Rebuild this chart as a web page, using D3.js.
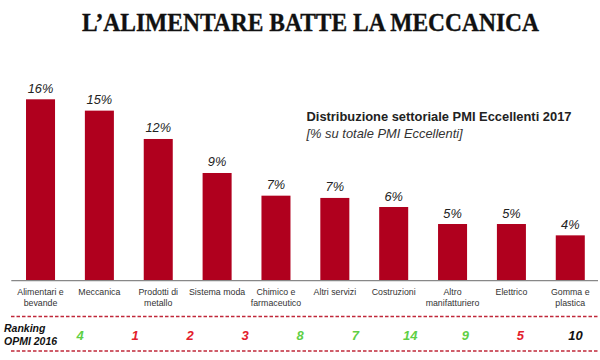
<!DOCTYPE html>
<html>
<head>
<meta charset="utf-8">
<script src="https://cdn.jsdelivr.net/npm/d3@7"></script>
<style>
  html, body { margin: 0; padding: 0; background: #fff; }
  svg { display: block; }
</style>
</head>
<body>
<script>
// ---- data ----
const categories = [
  "Alimentari e\nbevande", "Meccanica", "Prodotti di\nmetallo", "Sistema moda",
  "Chimico e\nfarmaceutico", "Altri servizi", "Costruzioni", "Altro\nmanifatturiero",
  "Elettrico", "Gomma e\nplastica"
];
const values = [16, 15, 12.5, 9.5, 7.5, 7.3, 6.5, 5.0, 5.0, 4.0];
const valueLabels = ["16%", "15%", "12%", "9%", "7%", "7%", "6%", "5%", "5%", "4%"];
const ranking2016 = [4, 1, 2, 3, 8, 7, 14, 9, 5, 10];
const title = "L\u2019ALIMENTARE BATTE LA MECCANICA";
const legendTitle = "Distribuzione settoriale PMI Eccellenti 2017";
const legendSub = "[% su totale PMI Eccellenti]";
const rankLabel = ["Ranking", "OPMI 2016"];

// ---- drawing ----
const W = 600, H = 360;
const svg = d3.select("body").append("svg").attr("width", W).attr("height", H);
const sans = "'Liberation Sans', Arial, sans-serif";

const x = d3.scaleBand().domain(d3.range(categories.length))
  .range([11.3, 599.5]).paddingInner(0.507).paddingOuter(0.25);
const y = d3.scaleLinear().domain([0, 16]).range([280.7, 99.3]);
// ranking row uses its own, narrower spacing
const xr = d3.scalePoint().domain(d3.range(ranking2016.length)).range([80, 575.5]);

// title
svg.append("text")
  .attr("x", 82).attr("y", 30.5)
  .attr("textLength", 457).attr("lengthAdjust", "spacingAndGlyphs")
  .style("font-family", "'Liberation Serif', 'Times New Roman', serif")
  .style("font-weight", "bold").style("font-size", "25.5px").attr("fill", "#111")
  .attr("stroke", "#111").attr("stroke-width", 0.35)
  .text(title);

// legend
svg.append("text").attr("x", 306.5).attr("y", 121.4)
  .attr("textLength", 265).attr("lengthAdjust", "spacingAndGlyphs")
  .style("font-family", sans).style("font-weight", "bold").style("font-size", "12.9px")
  .attr("fill", "#222").text(legendTitle);
svg.append("text").attr("x", 306.5).attr("y", 137.7)
  .style("font-family", sans).style("font-style", "italic").style("font-size", "12.9px")
  .attr("fill", "#333").text(legendSub);

// bars
svg.append("g").selectAll("rect").data(values).join("rect")
  .attr("x", (d, i) => x(i)).attr("width", x.bandwidth())
  .attr("y", d => y(d)).attr("height", d => y(0) - y(d))
  .attr("fill", "#b0001e");

// value labels
svg.append("g").selectAll("text").data(values).join("text")
  .attr("x", (d, i) => x(i) + x.bandwidth() / 2)
  .attr("y", d => y(d) - 6.5)
  .attr("text-anchor", "middle")
  .style("font-family", sans).style("font-style", "italic").style("font-size", "12.8px")
  .attr("fill", "#222")
  .text((d, i) => valueLabels[i]);

// axis baseline
const xAxis = d3.axisBottom(x).tickSize(0).tickFormat("");
const ax = svg.append("g").attr("transform", `translate(0,${y(0)})`).call(xAxis);
ax.select(".domain").attr("stroke", "#888").attr("stroke-width", 1.2)
  .attr("d", `M11.3,0H598`);

// category labels
const cat = svg.append("g").selectAll("text").data(categories).join("text")
  .attr("text-anchor", "middle")
  .style("font-family", sans).style("font-size", "8.8px").attr("fill", "#333");
cat.each(function (d, i) {
  const t = d3.select(this);
  d.split("\n").forEach((line, k) => {
    t.append("tspan").attr("x", x(i) + x.bandwidth() / 2)
      .attr("y", 295 + k * 10.5).text(line);
  });
});

// dashed lines
[316.5, 351].forEach(yy => {
  svg.append("line").attr("x1", 11).attr("x2", 598).attr("y1", yy).attr("y2", yy)
    .attr("stroke", "#c0283a").attr("stroke-width", 1.3).attr("stroke-dasharray", "3.5,2");
});

// ranking label
rankLabel.forEach((t, k) => {
  svg.append("text").attr("x", 4).attr("y", 332 + k * 12.5)
    .style("font-family", sans).style("font-weight", "bold").style("font-style", "italic")
    .style("font-size", "10.5px").attr("fill", "#111").text(t);
});

// ranking numbers, colour from comparison with 2017 position
const rankColor = (r, i) => r > i + 1 ? "#5fcf45" : (r < i + 1 ? "#e3202c" : "#111");
svg.append("g").selectAll("text").data(ranking2016).join("text")
  .attr("x", (d, i) => xr(i))
  .attr("y", 339.8)
  .attr("text-anchor", "middle")
  .style("font-family", sans).style("font-weight", "bold").style("font-style", "italic")
  .style("font-size", "13px")
  .attr("fill", (d, i) => rankColor(d, i))
  .text(d => d);
</script>
</body>
</html>
